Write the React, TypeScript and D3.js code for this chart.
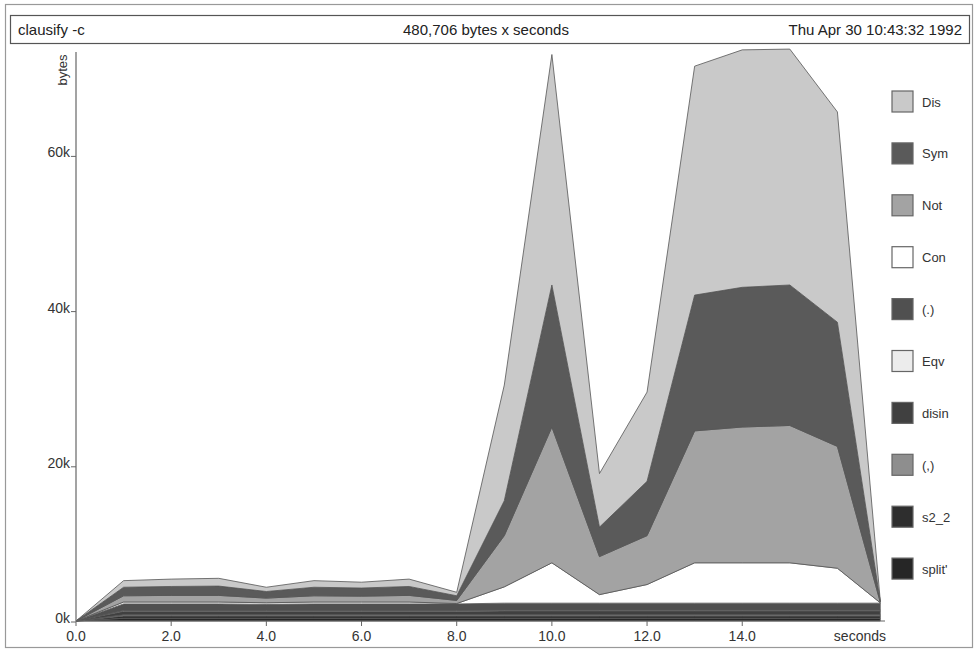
import React, { useEffect, useRef } from 'react';
import * as d3 from 'd3';

// sample times (seconds)
const times = [0, 1, 2, 3, 4, 5, 6, 7, 8, 9, 10, 11, 12, 13, 14, 15, 16, 16.9];

// bytes per cost centre (in k), bottom of the stack first
const splitP = [0, 0.35, 0.35, 0.35, 0.35, 0.35, 0.35, 0.35, 0.35, 0.35, 0.35, 0.35, 0.35, 0.35, 0.35, 0.35, 0.35, 0.35];
const s2_2 = [0, 0.3, 0.3, 0.3, 0.3, 0.3, 0.3, 0.3, 0.3, 0.3, 0.3, 0.3, 0.3, 0.3, 0.3, 0.3, 0.3, 0.3];
const comma = [0, 0.15, 0.15, 0.15, 0.15, 0.15, 0.15, 0.15, 0.15, 0.15, 0.15, 0.15, 0.15, 0.15, 0.15, 0.15, 0.15, 0.15];
const disin = [0, 0.45, 0.45, 0.45, 0.45, 0.45, 0.45, 0.45, 0.45, 0.5, 0.5, 0.5, 0.5, 0.5, 0.5, 0.5, 0.5, 0.5];
const eqv = [0, 0.1, 0.1, 0.1, 0.1, 0.1, 0.1, 0.1, 0.1, 0.1, 0.1, 0.1, 0.1, 0.1, 0.1, 0.1, 0.1, 0.1];
const dot = [0, 0.85, 0.85, 0.85, 0.8, 0.85, 0.85, 0.85, 0.85, 0.9, 0.9, 0.9, 0.9, 0.9, 0.9, 0.9, 0.9, 0.9];
const con = [0, 0.25, 0.25, 0.25, 0.2, 0.25, 0.25, 0.25, 0.05, 2.1, 5.2, 1.1, 2.4, 5.2, 5.2, 5.2, 4.5, 0.05];
const not = [0, 0.8, 0.85, 0.85, 0.6, 0.8, 0.75, 0.85, 0.4, 6.6, 17.5, 4.9, 6.3, 17, 17.5, 17.7, 15.7, 0.1];
const sym = [0, 1.1, 1.15, 1.2, 0.85, 1.1, 1.05, 1.15, 0.6, 4.5, 18.3, 3.8, 7, 17.5, 18, 18.1, 16, 0.1];
const dis = [0, 0.85, 0.95, 1.0, 0.55, 0.85, 0.75, 0.95, 0.45, 14.9, 29.7, 6.9, 11.5, 29.5, 30.6, 30.4, 27.1, 0.1];

const seriesNames = ["split'", 's2_2', '(,)', 'disin', 'Eqv', '(.)', 'Con', 'Not', 'Sym', 'Dis'];
const seriesValues = [splitP, s2_2, comma, disin, eqv, dot, con, not, sym, dis];
const seriesColors = ['#262626', '#2e2e2e', '#8e8e8e', '#404040', '#ececec', '#505050', '#ffffff', '#a3a3a3', '#5a5a5a', '#c9c9c9'];

const xTicks = [0, 2, 4, 6, 8, 10, 12, 14];
const yTicks = [0, 20000, 40000, 60000];

const W = 978;
const H = 651;

const App: React.FC = () => {
    const svgRef = useRef<SVGSVGElement>(null);

    useEffect(() => {
        const svg = d3.select(svgRef.current);
        svg.selectAll('*').remove();

        const font = "'Liberation Sans', Arial, sans-serif";

        const rows = times.map((t, i) => {
            const row: any = { t };
            seriesNames.forEach((n, j) => { row[n] = seriesValues[j][i] * 1000; });
            return row;
        });

        const x = d3.scaleLinear().domain([0, 17]).range([76, 885]);
        const y = d3.scaleLinear().domain([0, 60000]).range([621, 155.4]);

        // page frame
        svg.append('rect')
            .attr('x', 5.5).attr('y', 4.5)
            .attr('width', 967).attr('height', 643)
            .attr('fill', '#fff')
            .attr('stroke', '#999')
            .attr('stroke-width', 1.2);

        // title box
        svg.append('rect')
            .attr('x', 10.5).attr('y', 15.5)
            .attr('width', 959).attr('height', 28)
            .attr('fill', 'none')
            .attr('stroke', '#555')
            .attr('stroke-width', 1.2);

        const title = svg.append('g')
            .style('font-family', font)
            .style('font-size', '15px')
            .style('fill', '#222');
        title.append('text').attr('x', 18).attr('y', 35).text('clausify -c');
        title.append('text').attr('x', 486).attr('y', 35).attr('text-anchor', 'middle').text('480,706 bytes x seconds');
        title.append('text').attr('x', 962).attr('y', 35).attr('text-anchor', 'end').text('Thu Apr 30 10:43:32 1992');

        // stacked areas
        const stack = d3.stack<any>().keys(seriesNames);
        const layers = stack(rows);

        const area = d3.area<any>()
            .x(d => x(d.data.t))
            .y0(d => y(d[0]))
            .y1(d => y(d[1]));

        svg.append('g')
            .selectAll('path')
            .data(layers)
            .enter()
            .append('path')
            .attr('d', area)
            .attr('fill', (d, i) => seriesColors[i])
            .attr('stroke', '#555')
            .attr('stroke-width', 0.8)
            .attr('stroke-linejoin', 'round');

        // axes
        const axes = svg.append('g')
            .style('font-family', font)
            .style('font-size', '14px')
            .style('fill', '#333');

        axes.append('line')
            .attr('x1', 76).attr('x2', 76)
            .attr('y1', 52).attr('y2', 621)
            .attr('stroke', '#666').attr('stroke-width', 1.2);
        axes.append('line')
            .attr('x1', 76).attr('x2', 885)
            .attr('y1', 621).attr('y2', 621)
            .attr('stroke', '#666').attr('stroke-width', 1.2);

        yTicks.forEach(v => {
            axes.append('line')
                .attr('x1', 71).attr('x2', 76)
                .attr('y1', y(v) + 1).attr('y2', y(v) + 1)
                .attr('stroke', '#666');
            axes.append('text')
                .attr('x', 70).attr('y', y(v) + 2)
                .attr('text-anchor', 'end')
                .text(`${v / 1000}k`);
        });

        xTicks.forEach(v => {
            axes.append('line')
                .attr('x1', x(v)).attr('x2', x(v))
                .attr('y1', 621).attr('y2', 626)
                .attr('stroke', '#666');
            axes.append('text')
                .attr('x', x(v)).attr('y', 641)
                .attr('text-anchor', 'middle')
                .text(v.toFixed(1));
        });

        axes.append('text')
            .attr('x', 886).attr('y', 641)
            .attr('text-anchor', 'end')
            .text('seconds');

        axes.append('text')
            .attr('transform', 'translate(67,70) rotate(-90)')
            .attr('text-anchor', 'middle')
            .style('font-size', '13px')
            .text('bytes');

        // legend, top of stack first
        const legendData = seriesNames.map((n, i) => ({ name: n, color: seriesColors[i] })).reverse();
        const legend = svg.append('g')
            .style('font-family', font)
            .style('font-size', '13px')
            .style('fill', '#333');

        const items = legend.selectAll('.legend-item')
            .data(legendData)
            .enter()
            .append('g')
            .attr('class', 'legend-item')
            .attr('transform', (d, i) => `translate(892, ${91 + i * 51.9})`);

        items.append('rect')
            .attr('width', 21)
            .attr('height', 21)
            .attr('fill', d => d.color)
            .attr('stroke', '#666')
            .attr('stroke-width', 1.2);

        items.append('text')
            .attr('x', 30)
            .attr('y', 15.5)
            .text(d => d.name);
    }, []);

    return (
        <svg
            ref={svgRef}
            width={W}
            height={H}
            style={{ position: 'absolute', left: 0, top: 0, background: '#fff' }}
        />
    );
};

export default App;
